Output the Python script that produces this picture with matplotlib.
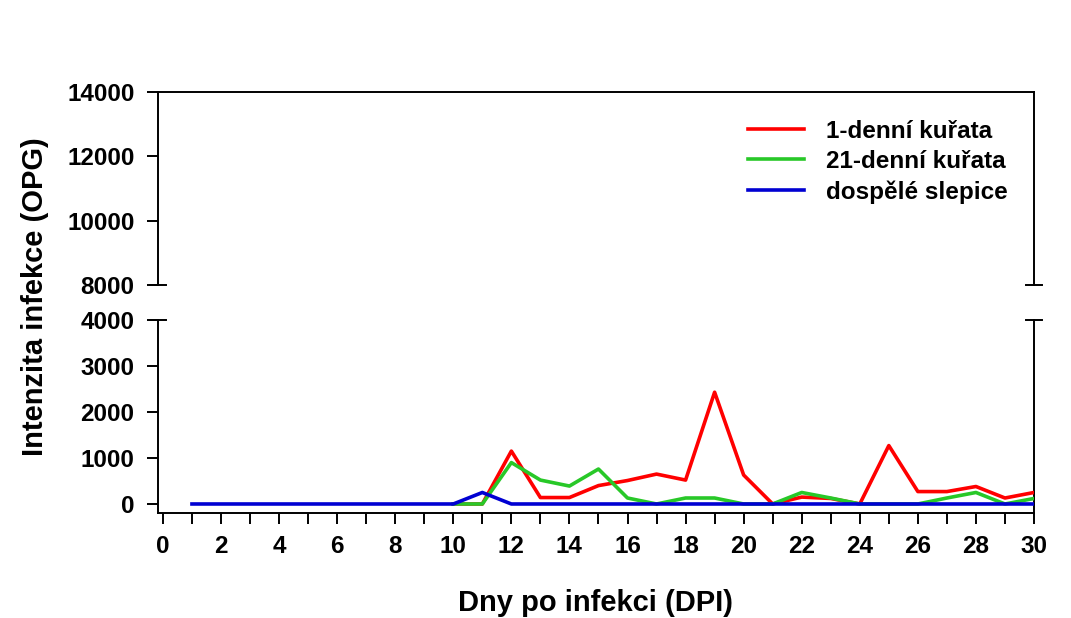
import matplotlib.pyplot as plt
import numpy as np

plt.rcParams["font.family"] = ["Liberation Sans", "DejaVu Sans"]
plt.rcParams["font.weight"] = "bold"

days_blue = np.arange(1, 31)
blue = [0] * 10 + [250] + [0] * 19

days_green = np.arange(10, 31)
green = [0, 0, 900, 520, 390, 760, 130, 0, 130, 130, 0, 0, 250, 130, 0, 0, 0, 130, 250, 0, 120]

days_red = np.arange(10, 31)
red = [0, 0, 1150, 140, 140, 400, 510, 650, 520, 2430, 630, 0, 150, 120, 0, 1270, 270, 270, 380, 130, 250]

labels = ["1-denní kuřata", "21-denní kuřata", "dospělé slepice"]
colors = ["#ff0000", "#28c828", "#0000d2"]

fig = plt.figure(figsize=(10.71, 6.18), dpi=100)
L, R = 158 / 1071, 1034 / 1071
ax_top = fig.add_axes([L, 1 - 285 / 618, R - L, (285 - 92) / 618])
ax_bot = fig.add_axes([L, 1 - 513 / 618, R - L, (513 - 320) / 618])

for ax in (ax_top, ax_bot):
    ax.plot(days_red, red, color=colors[0], lw=2.6, label=labels[0], zorder=3)
    ax.plot(days_green, green, color=colors[1], lw=2.6, label=labels[1], zorder=4)
    ax.plot(days_blue, blue, color=colors[2], lw=2.6, label=labels[2], zorder=5)
    ax.set_xlim(-0.17, 30)
    for s in ax.spines.values():
        s.set_linewidth(1.4)
    ax.tick_params(width=1.4, length=8, labelsize=17.5)
    ax.tick_params(axis="y", pad=9)
    ax.tick_params(axis="x", pad=8)

ax_top.set_ylim(8000, 14000)
ax_top.set_yticks([8000, 10000, 12000, 14000])
ax_top.spines["bottom"].set_visible(False)
ax_top.tick_params(axis="x", bottom=False, labelbottom=False)

ax_bot.set_ylim(-196, 4000)
ax_bot.set_yticks([0, 1000, 2000, 3000, 4000])
ax_bot.spines["top"].set_visible(False)
ax_bot.set_xticks(np.arange(0, 31, 2))
ax_bot.set_xticks(np.arange(0, 31, 1), minor=True)
ax_bot.tick_params(axis="x", which="minor", width=1.4, length=8)

# break caps on both spines
for ax, yc in ((ax_top, 0), (ax_bot, 1)):
    for xc in (0, 1):
        ax.plot([xc - 0.009, xc + 0.009], [yc, yc], transform=ax.transAxes,
                color="black", lw=1.4, clip_on=False)

for t in ax_top.get_yticklabels() + ax_bot.get_yticklabels() + ax_bot.get_xticklabels():
    t.set_fontweight("bold")

leg = ax_top.legend(loc="upper right", bbox_to_anchor=(0.995, 0.97), frameon=False,
                    prop={"size": 17.5, "weight": "bold"}, handlelength=2.3,
                    labelspacing=0.3, handletextpad=0.9)

fig.text(35 / 1071, 1 - 297 / 618, "Intenzita infekce (OPG)", rotation=90,
         ha="center", va="center", fontsize=21, fontweight="bold")
fig.text(596 / 1071, 1 - 603 / 618, "Dny po infekci (DPI)",
         ha="center", va="center", fontsize=21, fontweight="bold")

fig.savefig("out.png", dpi=100)
